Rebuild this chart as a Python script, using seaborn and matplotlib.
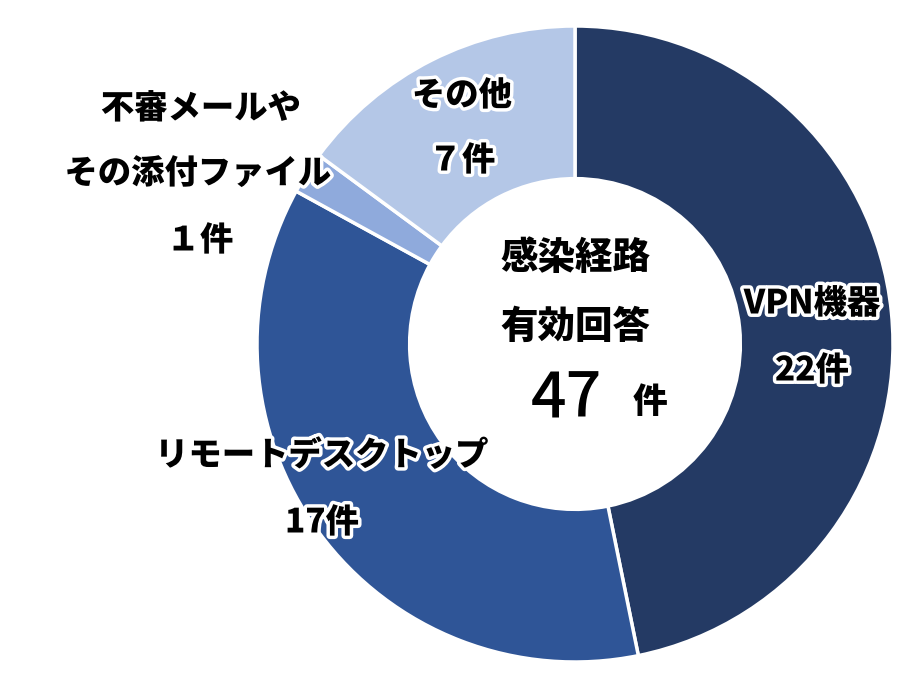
import matplotlib
matplotlib.use("Agg")
import matplotlib.pyplot as plt
import matplotlib.patheffects as pe
import seaborn as sns

categories = ["VPN機器", "リモートデスクトップ", "不審メールや\nその添付ファイル", "その他"]
counts = [22, 17, 1, 7]
count_labels = ["22件", "17件", "１件", "７件"]
total = sum(counts)

sns.set_theme(style="white")
plt.rcParams["font.family"] = ["Noto Sans CJK JP", "DejaVu Sans"]

colors = ["#243a64", "#2f5597", "#8faadc", "#b4c7e7"]

fig = plt.figure(figsize=(9.19, 6.89), dpi=100)
ax = fig.add_axes([0, 0, 1, 1])

cx, cy, r = 575, 345, 318
ax.pie(counts, colors=colors, startangle=90, counterclock=False,
       center=(cx, cy), radius=r, frame=True,
       wedgeprops=dict(width=r * 0.48, edgecolor="white", linewidth=2.5))
ax.set_xlim(0, 919)
ax.set_ylim(0, 689)
ax.set_aspect("equal")
ax.axis("off")

outline = [pe.withStroke(linewidth=5, foreground="white")]
kw = dict(ha="center", va="center", fontsize=24, fontweight="heavy",
          color="black", path_effects=outline)

H = 689
ax.text(812, H - 303, categories[0], **kw)
ax.text(812, H - 370, count_labels[0], **kw)
ax.text(322, H - 455, categories[1], **kw)
ax.text(322, H - 522, count_labels[1], **kw)
top, bottom = categories[2].split("\n")
ax.text(201, H - 108, top, **kw)
ax.text(198, H - 173, bottom, **kw)
ax.text(200, H - 240, count_labels[2], **kw)
ax.text(462, H - 95, categories[3], **kw)
ax.text(462, H - 160, count_labels[3], **kw)

ckw = dict(ha="center", va="center", fontweight="heavy", color="black")
ax.text(cx, H - 258, "感染経路", fontsize=27, **ckw)
ax.text(cx, H - 327, "有効回答", fontsize=27, **ckw)
ax.text(566, H - 400, str(total), fontsize=45, ha="center", va="center",
        color="black", fontweight="medium")
ax.text(650, H - 402, "件", fontsize=25, **ckw)

fig.savefig("out.png", dpi=100, facecolor="white")
